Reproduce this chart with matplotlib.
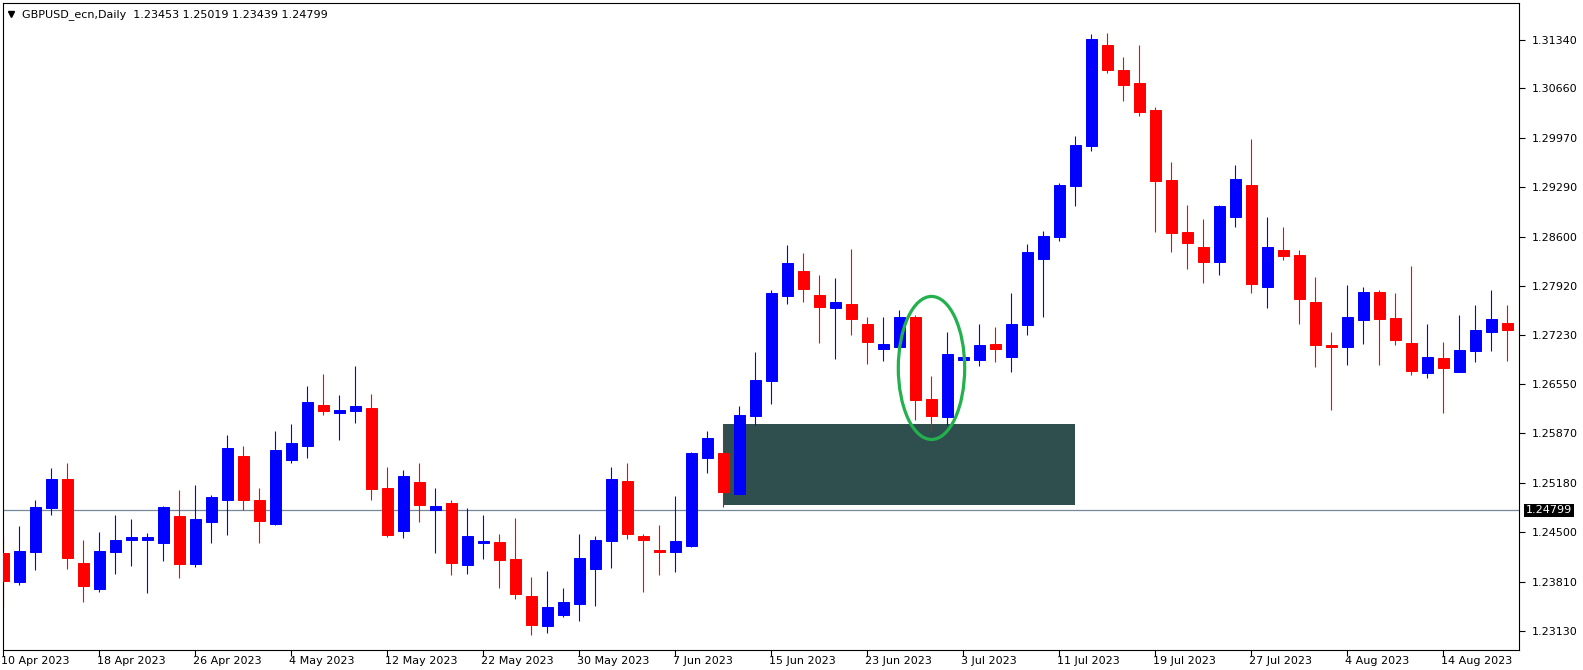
import numpy as np
import pandas as pd
import matplotlib
matplotlib.use("Agg")
import matplotlib.pyplot as plt
from matplotlib.patches import Ellipse, Rectangle
from matplotlib.transforms import ScaledTranslation

# daily GBPUSD candles, 10 Apr 2023 .. 18 Aug 2023 (business days)
dates = pd.bdate_range("2023-04-10", periods=95)

opens = [1.24204, 1.23804, 1.24221, 1.24836, 1.25230, 1.24066, 1.23714, 1.24221, 1.24383, 1.24394,
         1.24347, 1.24723, 1.24054, 1.24639, 1.24937, 1.25552, 1.24949, 1.24615, 1.25504, 1.25689,
         1.26262, 1.26149, 1.26185, 1.26220, 1.25105, 1.24514, 1.25200, 1.24806, 1.24908, 1.24042,
         1.24353, 1.24365, 1.24126, 1.23607, 1.23189, 1.23344, 1.23493, 1.23983, 1.24377, 1.25212,
         1.24448, 1.24251, 1.24221, 1.24305, 1.25522, 1.25594, 1.25033, 1.26107, 1.26596, 1.27784,
         1.28118, 1.27796, 1.27617, 1.27670, 1.27390, 1.27038, 1.27074, 1.27491, 1.26346, 1.26095,
         1.26889, 1.26883, 1.27104, 1.26930, 1.27378, 1.28285, 1.28595, 1.29305, 1.29866, 1.31263,
         1.30910, 1.30731, 1.30356, 1.29389, 1.28661, 1.28452, 1.28243, 1.28870, 1.29317, 1.27909,
         1.28410, 1.28345, 1.27700, 1.27098, 1.27074, 1.27450, 1.27837, 1.27473, 1.27127, 1.26710,
         1.26919, 1.26722, 1.27014, 1.27283, 1.27408]
highs = [1.24430, 1.24579, 1.24949, 1.25385, 1.25463, 1.24389, 1.24502, 1.24741, 1.24681, 1.24490,
         1.24866, 1.25081, 1.25158, 1.25009, 1.25844, 1.25689, 1.25117, 1.25904, 1.25994, 1.26525,
         1.26692, 1.26399, 1.26805, 1.26417, 1.25409, 1.25355, 1.25463, 1.25105, 1.24937, 1.24836,
         1.24729, 1.24472, 1.24699, 1.23875, 1.23959, 1.23720, 1.24472, 1.24448, 1.25397, 1.25451,
         1.24472, 1.24597, 1.25003, 1.25606, 1.25898, 1.25988, 1.26250, 1.27002, 1.27855, 1.28482,
         1.28368, 1.28064, 1.28022, 1.28428, 1.27491, 1.27491, 1.27587, 1.27515, 1.26668, 1.27283,
         1.26935, 1.27390, 1.27348, 1.27814, 1.28494, 1.28679, 1.29341, 1.30003, 1.31412, 1.31430,
         1.31095, 1.31263, 1.30409, 1.29639, 1.29043, 1.28846, 1.29043, 1.29598, 1.29962, 1.28870,
         1.28733, 1.28410, 1.28046, 1.27283, 1.27927, 1.27897, 1.27855, 1.27825, 1.28190, 1.27390,
         1.27139, 1.27515, 1.27658, 1.27867, 1.27658]
lows = [1.23446, 1.23762, 1.23971, 1.24741, 1.23983, 1.23523, 1.23667, 1.23917, 1.24025, 1.23649,
        1.24096, 1.23857, 1.24013, 1.24347, 1.24460, 1.24800, 1.24347, 1.24597, 1.25463, 1.25534,
        1.26119, 1.25773, 1.26012, 1.24949, 1.24430, 1.24418, 1.24639, 1.24209, 1.23905, 1.23917,
        1.24126, 1.23720, 1.23565, 1.23070, 1.23094, 1.23320, 1.23261, 1.23470, 1.24001, 1.24406,
        1.23667, 1.23899, 1.23941, 1.24287, 1.25325, 1.24848, 1.25033, 1.25982, 1.26274, 1.27670,
        1.27688, 1.27127, 1.26907, 1.27241, 1.26835, 1.26877, 1.27056, 1.26053, 1.25904, 1.25982,
        1.26880, 1.26805, 1.26859, 1.26722, 1.27241, 1.27491, 1.28536, 1.29025, 1.29795, 1.30881,
        1.30493, 1.30272, 1.28661, 1.28386, 1.28148, 1.27963, 1.28076, 1.28733, 1.27814, 1.27617,
        1.28273, 1.27390, 1.26793, 1.26191, 1.26817, 1.27115, 1.26817, 1.27098, 1.26680, 1.26638,
        1.26149, 1.26722, 1.26859, 1.27014, 1.26877]
closes = [1.23822, 1.24239, 1.24848, 1.25230, 1.24132, 1.23756, 1.24239, 1.24389, 1.24430, 1.24424,
          1.24848, 1.24054, 1.24681, 1.24979, 1.25660, 1.24949, 1.24657, 1.25636, 1.25731, 1.26304,
          1.26185, 1.26197, 1.26250, 1.25093, 1.24460, 1.25284, 1.24878, 1.24866, 1.24072, 1.24448,
          1.24377, 1.24108, 1.23637, 1.23201, 1.23452, 1.23523, 1.24138, 1.24389, 1.25230, 1.24472,
          1.24394, 1.24227, 1.24377, 1.25594, 1.25803, 1.25051, 1.26119, 1.26608, 1.27825, 1.28231,
          1.27879, 1.27629, 1.27700, 1.27462, 1.27139, 1.27115, 1.27491, 1.26334, 1.26107, 1.26972,
          1.26925, 1.27098, 1.27038, 1.27390, 1.28386, 1.28607, 1.29317, 1.29878, 1.31346, 1.30916,
          1.30714, 1.30338, 1.29377, 1.28649, 1.28512, 1.28243, 1.29025, 1.29401, 1.27939, 1.28452,
          1.28327, 1.27742, 1.27098, 1.27074, 1.27491, 1.27837, 1.27462, 1.27169, 1.26734, 1.26930,
          1.26775, 1.27032, 1.27306, 1.27462, 1.27306]

price_ticks = [1.31340, 1.30660, 1.29970, 1.29290, 1.28600, 1.27920, 1.27230,
               1.26550, 1.25870, 1.25180, 1.24500, 1.23810, 1.23130]
bid = 1.24799
title = "GBPUSD_ecn,Daily  1.23453 1.25019 1.23439 1.24799"

# zone box and the marked pattern
zone_start, zone_end = 45, 67
zone_top, zone_bottom = 1.25994, 1.24878
mark_center = (58, 1.26778)
mark_w, mark_h = 4.15, 0.01987

opens = np.array(opens)
closes = np.array(closes)
x = np.arange(len(dates))
up = closes > opens
colors = np.where(up, "#0000ff", "#ff0000")

fig = plt.figure(figsize=(15.83, 6.70), dpi=100)
ax = fig.add_axes([2.7 / 1583, 1 - 649.5 / 670, (1519 - 2.7) / 1583, (649.5 - 2.6) / 670])

ax.add_patch(Rectangle((zone_start, zone_bottom), zone_end - zone_start, zone_top - zone_bottom,
                       facecolor="#2f4f4f", edgecolor="none", zorder=1))
ax.axhline(bid, color="#778899", lw=0.9, zorder=1.5)

ax.vlines(x, lows, highs, colors=colors, lw=0.8, zorder=2)
ax.bar(x, closes - opens, bottom=opens, width=0.66, color=colors, edgecolor=colors,
       linewidth=0.7, zorder=3)

ax.add_patch(Ellipse(mark_center, mark_w, mark_h, facecolor="none", edgecolor="#22b14c",
                     lw=2.3, zorder=4))

ax.set_xlim(-0.05, 94.72)
ax.set_ylim(1.22867, 1.31853)

# price axis on the right
ax.yaxis.tick_right()
ax.set_yticks(price_ticks)
ax.set_yticklabels([f"{p:.5f}" for p in price_ticks])
ax.tick_params(axis="y", direction="out", length=4, width=0.8, labelsize=8, pad=5)

# date axis
tick_idx = list(range(0, len(dates), 6))
ax.set_xticks(tick_idx)
ax.set_xticklabels([f"{d.day} {d.strftime('%b %Y')}" for d in dates[tick_idx]])
ax.tick_params(axis="x", direction="out", length=4, width=0.8, labelsize=8, pad=1)
off = ScaledTranslation(-2 / 100, 0, fig.dpi_scale_trans)
for lab in ax.get_xticklabels():
    lab.set_horizontalalignment("left")
    lab.set_transform(lab.get_transform() + off)

for s in ax.spines.values():
    s.set_linewidth(0.8)
    s.set_color("black")

# current price label
ax.text(1.0, bid, f"{bid:.5f}", transform=ax.get_yaxis_transform(), color="white",
        fontsize=8, va="center", ha="left",
        bbox=dict(facecolor="black", edgecolor="none", pad=1.2),
        ).set_transform(ax.get_yaxis_transform() + ScaledTranslation(7 / 100, 0, fig.dpi_scale_trans))

# header
ax.plot([0.0055], [0.982], marker="v", color="black", markersize=5, transform=ax.transAxes,
        clip_on=False)
ax.text(0.0128, 0.982, title, transform=ax.transAxes, fontsize=8, va="center", ha="left")

fig.savefig("out.png", dpi=100)
